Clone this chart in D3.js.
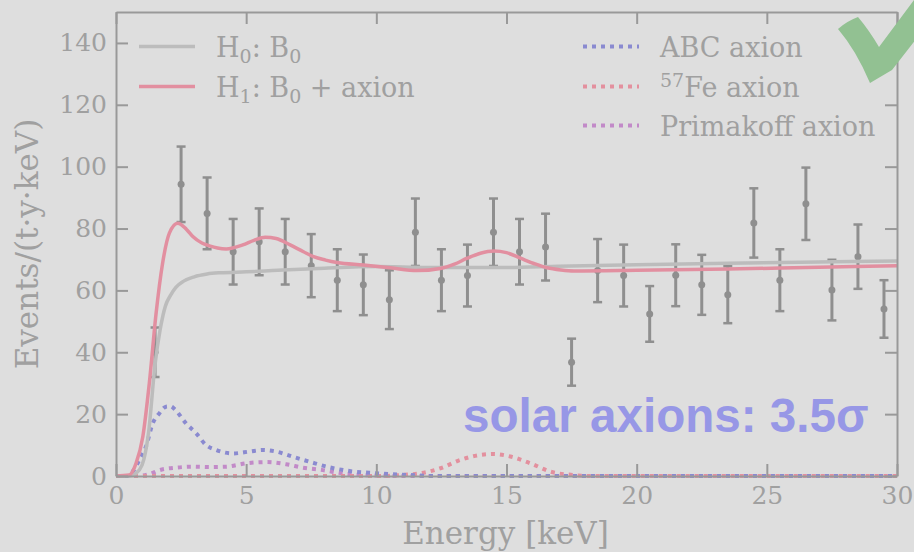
<!DOCTYPE html>
<html>
<head>
<meta charset="utf-8">
<script src="https://cdn.jsdelivr.net/npm/d3@7"></script>
<style>
  html, body { margin: 0; padding: 0; background: #dedede; }
  svg { display: block; }
</style>
</head>
<body>
<svg id="chart" width="914" height="552"></svg>
<script>
// Measured spectrum: 1 keV bins, events/(t·y·keV) with symmetric errors
const binCenters = [1.5, 2.5, 3.5, 4.5, 5.5, 6.5, 7.5, 8.5, 9.5, 10.5, 11.5, 12.5, 13.5, 14.5, 15.5,
                    16.5, 17.5, 18.5, 19.5, 20.5, 21.5, 22.5, 23.5, 24.5, 25.5, 26.5, 27.5, 28.5, 29.5];
const binCounts  = [40, 94.3, 84.9, 72.5, 75.7, 72.5, 68, 63.3, 61.8, 57, 78.8, 63.3, 64.8, 78.8, 72.5,
                    74, 36.8, 66.4, 64.8, 52.4, 64.9, 61.8, 58.6, 81.8, 63.3, 88, 60.1, 70.9, 54];
const binErrors  = [8, 12.2, 11.6, 10.6, 10.8, 10.6, 10.2, 10, 9.8, 9.5, 10.9, 10, 10, 10.9, 10.6,
                    10.8, 7.6, 10.2, 10, 9, 10, 9.7, 9.2, 11.2, 10, 11.7, 9.8, 10.4, 9.3];

// Background-only model H0
const h0Energy = [0, 0.5, 0.75, 1.0, 1.25, 1.5, 1.7, 1.9, 2.1, 2.3, 2.6, 3.0, 3.5, 4, 5, 6, 8, 10, 12, 15, 17, 20, 23.5, 27, 30];
const h0Rate   = [0, 0, 0.8, 3.5, 14, 36, 47.5, 55, 58.5, 61, 63, 64.4, 65.3, 65.7, 66, 66.4, 67.2, 67.7, 67.4, 67.4, 67.8, 68.3, 68.8, 69.2, 69.5];

// Background + axion model H1
const h1Energy = [0, 0.5, 0.77, 1.03, 1.28, 1.54, 1.79, 2.05, 2.37, 2.7, 2.95, 3.3, 3.59, 3.9, 4.23, 4.87, 5.3, 5.73, 6.15, 6.69,
                  7.2, 7.59, 8.05, 8.49, 9.51, 10.54, 11.56, 12.46, 13.0, 13.49, 14.0, 14.51, 15.0, 15.54, 16.05, 16.56, 17.1, 17.59, 20, 23.5, 27, 30];
const h1Rate   = [0, 0.3, 4.1, 12.7, 30, 52.6, 68.8, 78.5, 81.7, 79.8, 77.4, 75.3, 74.4, 73.7, 73.4, 74.7, 76.2, 77.2, 76.8, 74.7,
                  72.5, 70.9, 69.8, 69, 68.2, 67.3, 66.4, 67.1, 68.5, 70.4, 72, 72.7, 72.2, 70.4, 68.7, 67.3, 66.6, 66.3, 66.5, 66.9, 67.5, 68];

// Individual solar axion components
const abcEnergy = [0, 0.5, 0.64, 0.9, 1.15, 1.41, 1.67, 1.92, 2.1, 2.24, 2.69, 3.08, 3.46, 3.85, 4.49, 5.13, 5.64, 6.15, 6.8, 7.44, 8.2, 8.97, 10, 11.3, 12.3, 30];
const abcRate   = [0, 0, 1.4, 5.2, 9.5, 17, 20.3, 22.4, 22.5, 21.7, 17, 13.8, 10, 8.4, 7.3, 7.9, 8.4, 7.9, 6.2, 4.6, 2.8, 1.6, 0.9, 0.3, 0, 0];
const feEnergy  = [0, 10.2, 10.92, 11.69, 12.46, 13.23, 14.0, 14.5, 15.15, 15.92, 16.69, 17.59, 18.3, 30];
const feRate    = [0, 0, 0.3, 0.9, 2.5, 5.2, 6.8, 7.1, 6.3, 4.1, 1.4, 0.3, 0, 0];
const primEnergy = [0, 0.77, 1.28, 1.67, 2.3, 2.95, 3.6, 4.23, 5.0, 5.77, 6.54, 7.18, 7.95, 8.72, 9.74, 10.9, 30];
const primRate   = [0, 0, 0.6, 1.9, 2.7, 3.0, 2.9, 3.0, 4.1, 4.5, 3.8, 2.7, 1.9, 0.8, 0.2, 0, 0];

// Axis ticks
const xTicks = [0, 5, 10, 15, 20, 25, 30];
const yTicks = [0, 20, 40, 60, 80, 100, 120, 140];

const svg = d3.select("#chart");
const W = 914, H = 552;
const margin = { left: 116, right: W - 897, top: 12, bottom: H - 476 };

const x = d3.scaleLinear().domain([0, 30]).range([margin.left, W - margin.right]);
const y = d3.scaleLinear().domain([0, 150]).range([H - margin.bottom, margin.top]);

const axisColor = "#999999";
const textColor = "#a0a0a0";
const serif = "'DejaVu Serif', serif";
const dotted = "4,5";

svg.append("rect").attr("width", W).attr("height", H).attr("fill", "#dedede");

// Error bars
const errColor = "#8f8f8f";
const pts = binCenters.map((e, i) => ({ e, v: binCounts[i], s: binErrors[i] }));
const eb = svg.append("g").attr("class", "errorbars");
eb.selectAll("line.bar").data(pts).join("line")
  .attr("x1", d => x(d.e)).attr("x2", d => x(d.e))
  .attr("y1", d => y(d.v - d.s)).attr("y2", d => y(d.v + d.s))
  .attr("stroke", errColor).attr("stroke-width", 3);
["lo", "hi"].forEach(k => {
  eb.selectAll("line.cap-" + k).data(pts).join("line")
    .attr("x1", d => x(d.e) - 4.5).attr("x2", d => x(d.e) + 4.5)
    .attr("y1", d => y(k === "lo" ? d.v - d.s : d.v + d.s))
    .attr("y2", d => y(k === "lo" ? d.v - d.s : d.v + d.s))
    .attr("stroke", errColor).attr("stroke-width", 2.5);
});
eb.selectAll("circle").data(pts).join("circle")
  .attr("cx", d => x(d.e)).attr("cy", d => y(d.v)).attr("r", 3.5)
  .attr("fill", errColor);

// Model curves
const line = d3.line().x(d => x(d[0])).y(d => y(d[1])).curve(d3.curveMonotoneX);
const zip = (a, b) => a.map((v, i) => [v, b[i]]);

const curves = [
  { e: primEnergy, r: primRate, color: "#c28ac8", dash: dotted, w: 4 },
  { e: feEnergy,   r: feRate,   color: "#e3909e", dash: dotted, w: 4 },
  { e: abcEnergy,  r: abcRate,  color: "#8a8ad0", dash: dotted, w: 4 },
  { e: h0Energy,   r: h0Rate,   color: "#bcbcbc", dash: null,   w: 3.5 },
  { e: h1Energy,   r: h1Rate,   color: "#e28fa0", dash: null,   w: 3.5 }
];
curves.forEach(c => {
  svg.append("path")
    .datum(zip(c.e, c.r))
    .attr("d", line)
    .attr("fill", "none")
    .attr("stroke", c.color)
    .attr("stroke-width", c.w)
    .attr("stroke-dasharray", c.dash)
    .attr("stroke-linejoin", "round");
});

// Axes with inward ticks on all four sides
function styleAxis(g) {
  g.selectAll(".domain").attr("stroke", axisColor).attr("stroke-width", 2);
  g.selectAll(".tick line").attr("stroke", axisColor).attr("stroke-width", 2);
  g.selectAll(".tick text").attr("fill", textColor).attr("font-family", serif).attr("font-size", 25);
}
svg.append("g").attr("transform", `translate(0,${y(0)})`)
  .call(d3.axisBottom(x).tickValues(xTicks).tickSize(-12).tickSizeOuter(0).tickPadding(10))
  .call(styleAxis);
svg.append("g").attr("transform", `translate(0,${y(150)})`)
  .call(d3.axisTop(x).tickValues(xTicks).tickSize(-12).tickSizeOuter(0).tickFormat(""))
  .call(styleAxis);
svg.append("g").attr("transform", `translate(${x(0)},0)`)
  .call(d3.axisLeft(y).tickValues(yTicks).tickSize(-12).tickSizeOuter(0).tickPadding(9))
  .call(styleAxis);
svg.append("g").attr("transform", `translate(${x(30)},0)`)
  .call(d3.axisRight(y).tickValues(yTicks).tickSize(-12).tickSizeOuter(0).tickFormat(""))
  .call(styleAxis);

// Axis titles
svg.append("text")
  .attr("x", (x(0) + x(30)) / 2 - 1).attr("y", 544)
  .attr("text-anchor", "middle")
  .attr("font-family", serif).attr("font-size", 31).attr("fill", textColor)
  .text("Energy [keV]");
svg.append("text")
  .attr("transform", `translate(38,${(y(0) + y(150)) / 2}) rotate(-90)`)
  .attr("text-anchor", "middle")
  .attr("font-family", serif).attr("font-size", 31).attr("fill", textColor)
  .text("Events/(t·y·keV)");

// Legends
function legendEntry(x0, yBase, color, dash, parts) {
  svg.append("line")
    .attr("x1", x0).attr("x2", x0 + 56)
    .attr("y1", yBase - 10.5).attr("y2", yBase - 10.5)
    .attr("stroke", color).attr("stroke-width", dash ? 4 : 3.5)
    .attr("stroke-dasharray", dash);
  const t = svg.append("text")
    .attr("x", x0 + 77).attr("y", yBase)
    .attr("font-family", serif).attr("font-size", 27).attr("fill", textColor);
  parts.forEach(p => {
    const ts = t.append("tspan").text(p.t);
    if (p.sub) ts.attr("font-size", 19).attr("dy", 6);
    if (p.sup) ts.attr("font-size", 19).attr("dy", -10);
    if (p.reset) ts.attr("dy", p.reset);
  });
}
legendEntry(139, 57, "#bcbcbc", null, [
  { t: "H" }, { t: "0", sub: true }, { t: ": B", reset: -6 }, { t: "0", sub: true }
]);
legendEntry(139, 97, "#e28fa0", null, [
  { t: "H" }, { t: "1", sub: true }, { t: ": B", reset: -6 }, { t: "0", sub: true }, { t: " + axion", reset: -6 }
]);
legendEntry(583, 57, "#8a8ad0", dotted, [{ t: "ABC axion" }]);
legendEntry(583, 97, "#e3909e", dotted, [{ t: "57", sup: true }, { t: "Fe axion", reset: 10 }]);
legendEntry(583, 136, "#c28ac8", dotted, [{ t: "Primakoff axion" }]);

// Significance annotation
svg.append("text")
  .attr("x", 463).attr("y", 432)
  .attr("font-family", "'Liberation Sans', Arial, sans-serif")
  .attr("font-weight", "bold").attr("font-size", 47.6)
  .attr("fill", "#9797e6")
  .text("solar axions: 3.5σ");

// Check mark
svg.append("path")
  .attr("d", "M838,29 Q847,21 858,17 Q869,30 879,47 L920,-8 L920,34 L892,70 L870,83 Q856,50 838,29 Z")
  .attr("fill", "#92c192");
</script>
</body>
</html>
